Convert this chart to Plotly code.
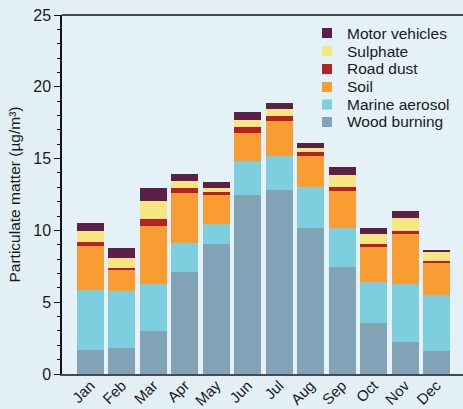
import plotly.graph_objects as go

months = ["Jan", "Feb", "Mar", "Apr", "May", "Jun", "Jul", "Aug", "Sep", "Oct", "Nov", "Dec"]
wood_burning   = [1.67, 1.81, 2.99, 7.10, 9.05, 12.46, 12.80, 10.16, 7.45, 3.55, 2.23, 1.60]
marine_aerosol = [4.20, 3.97, 3.27, 2.02, 1.39, 2.36, 2.37, 2.85, 2.71, 2.85, 4.03, 3.90]
soil           = [3.04, 1.46, 4.04, 3.48, 2.02, 1.95, 2.44, 2.16, 2.57, 2.44, 3.48, 2.29]
road_dust      = [0.28, 0.14, 0.49, 0.34, 0.21, 0.42, 0.34, 0.28, 0.28, 0.21, 0.21, 0.07]
sulphate       = [0.76, 0.69, 1.25, 0.49, 0.27, 0.49, 0.49, 0.28, 0.84, 0.69, 0.91, 0.63]
motor_vehicles = [0.56, 0.70, 0.90, 0.49, 0.42, 0.55, 0.42, 0.35, 0.56, 0.42, 0.48, 0.14]

series_names = ["Wood burning", "Marine aerosol", "Soil", "Road dust", "Sulphate", "Motor vehicles"]
series_values = [wood_burning, marine_aerosol, soil, road_dust, sulphate, motor_vehicles]
series_colors = ["#82a2b6", "#7dcfe0", "#f99d33", "#b81f26", "#f5e682", "#5b1f48"]

W, H = 463, 409
L, R, T, B = 62, 0, 15, 35
pw, ph = W - L - R, H - T - B

fig = go.Figure()
for name, vals, color in zip(series_names, series_values, series_colors):
    fig.add_trace(go.Bar(x=months, y=vals, name=name, showlegend=False,
                         marker=dict(color=color, line=dict(width=0))))

font = "Liberation Sans, Arial, sans-serif"
fig.update_layout(
    barmode="stack",
    bargap=0.14,
    width=W, height=H,
    margin=dict(l=L, r=R, t=T, b=B, autoexpand=False),
    paper_bgcolor="#e2f0f5",
    plot_bgcolor="#e4f1f6",
    font=dict(family=font, color="#1a1a1a", size=15),
    showlegend=False,
)
fig.update_xaxes(
    range=[-0.906, 11.84], showgrid=False, showline=True, linecolor="#4a4a4a", linewidth=2,
    tickangle=-45, ticks="", tickfont=dict(size=15), automargin=False,
    ticklabelstandoff=-5,
)
fig.update_yaxes(
    range=[0, 25], dtick=5, showgrid=False, zeroline=False, showline=True,
    linecolor="#111", linewidth=1.5, ticks="outside", ticklen=6, tickcolor="#111",
    tickfont=dict(size=16), automargin=False,
    minor=dict(dtick=1, ticks="outside", ticklen=3, tickcolor="#111"),
    title=dict(text="Particulate matter (µg/m³)", font=dict(size=15.5), standoff=9),
)
fig.add_shape(type="line", xref="paper", yref="paper", x0=0, x1=1, y0=1, y1=1,
              line=dict(color="#111", width=1.5))

# manual legend (top entry = last series)
row_centers = [33, 51, 69, 87, 104.5, 122]
for i, (name, color) in enumerate(zip(series_names[::-1], series_colors[::-1])):
    yc = row_centers[i]
    y_paper = 1 - (yc - T) / ph
    fig.add_shape(type="rect", xref="paper", yref="paper",
                  x0=(322 - L) / pw, x1=(332 - L) / pw,
                  y0=y_paper - 5 / ph, y1=y_paper + 5 / ph,
                  fillcolor=color, line=dict(width=0))
    fig.add_annotation(text=name, xref="paper", yref="paper",
                       x=(345 - L) / pw, y=y_paper, xanchor="left", yanchor="middle",
                       showarrow=False, font=dict(size=15.5, color="#1a1a1a"))
fig.write_html("out.html", config={"displayModeBar": False},
               post_script="document.body.style.margin='0';document.body.style.background='#e2f0f5';")
